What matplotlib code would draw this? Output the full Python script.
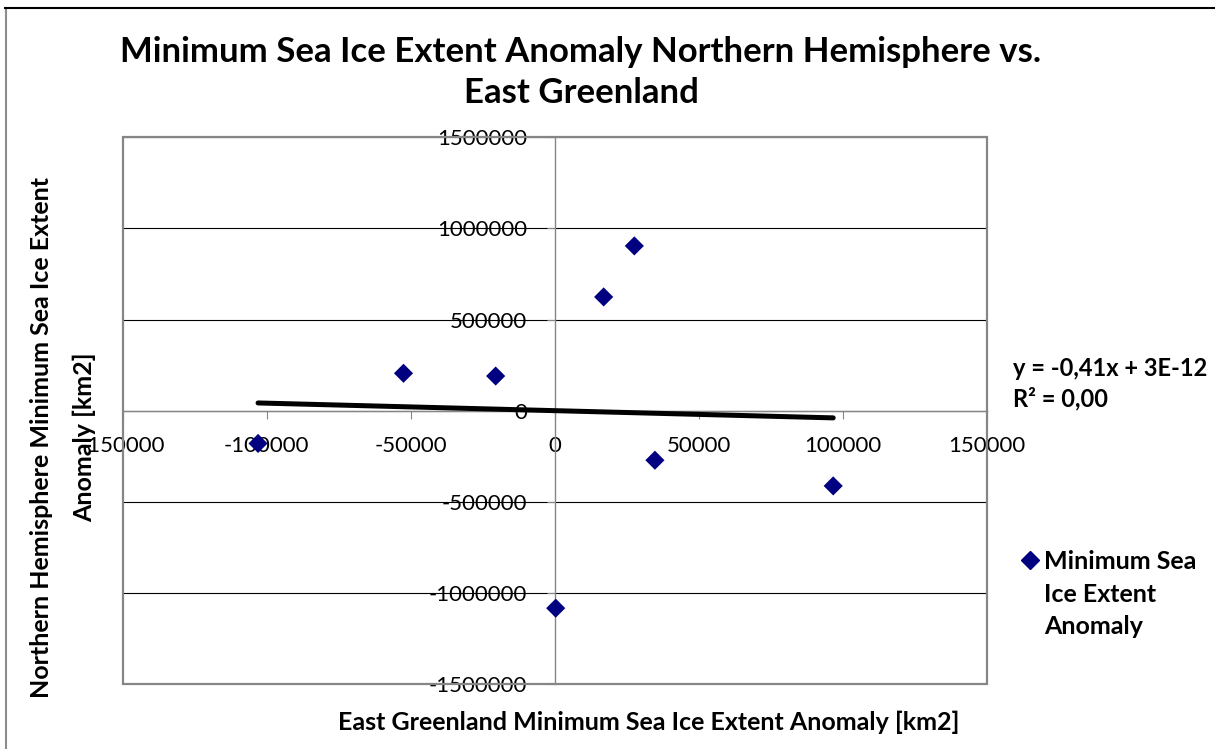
import matplotlib
matplotlib.use("Agg")
import matplotlib.pyplot as plt
from matplotlib.lines import Line2D
from matplotlib.patches import Rectangle
import numpy as np

# Minimum sea ice extent anomalies [km2]
east_greenland = [-103000, -52500, -20500, 17000, 27650, 34800, 96700, 350]
northern_hemisphere = [-180000, 205000, 190000, 624000, 904000, -272000, -413000, -1084000]

x_ticks = [-150000, -100000, -50000, 0, 50000, 100000, 150000]
y_ticks = [-1500000, -1000000, -500000, 0, 500000, 1000000, 1500000]

# Linear trend as reported on the chart
trend_slope = -0.41
trend_intercept = 3e-12
trend_label = "y = -0,41x + 3E-12"
r2_label = "R\u00b2 = 0,00"

series_label = "Minimum Sea\nIce Extent\nAnomaly"
title_lines = ["Minimum Sea Ice Extent Anomaly Northern Hemisphere vs.", "East Greenland"]
x_label = "East Greenland Minimum Sea Ice Extent Anomaly [km2]"
y_label = "Northern Hemisphere Minimum Sea Ice Extent\nAnomaly [km2]"

plt.rcParams['font.family'] = ['Lato', 'DejaVu Sans']

W, H = 1215, 749
fig = plt.figure(figsize=(W / 100, H / 100), dpi=100)
fig.patch.set_facecolor('white')


def fx(px):
    return px / W


def fy(py):
    return 1 - py / H


left, right, top, bottom = 122.7, 986.7, 137.3, 684.0
ax = fig.add_axes([fx(left), fy(bottom), (right - left) / W, (bottom - top) / H])
ax.set_xlim(x_ticks[0], x_ticks[-1])
ax.set_ylim(y_ticks[0], y_ticks[-1])

axis_grey = '#868686'
marker_blue = '#000080'

# axes crossing at the origin
for side in ('top', 'right'):
    ax.spines[side].set_visible(False)
ax.spines['left'].set_position(('data', 0))
ax.spines['bottom'].set_position(('data', 0))
for side in ('left', 'bottom'):
    ax.spines[side].set_color(axis_grey)
    ax.spines[side].set_linewidth(1.0)
    ax.spines[side].set_zorder(2.5)

ax.set_xticks(x_ticks)
ax.set_xticklabels([str(v) for v in x_ticks])
ax.set_yticks(y_ticks)
ax.set_yticklabels([str(v) for v in y_ticks])
ax.tick_params(axis='both', direction='out', length=6, width=0.8, color=axis_grey,
               labelsize=16, labelcolor='black')
ax.tick_params(axis='x', pad=12)
ax.tick_params(axis='y', pad=14)

ax.set_axisbelow(True)
ax.yaxis.grid(True, color='black', linewidth=0.8)

# plot-area frame
ax.add_patch(Rectangle((0, 0), 1, 1, transform=ax.transAxes, fill=False,
                       edgecolor=axis_grey, linewidth=1.6, zorder=3, clip_on=False))

ax.scatter(east_greenland, northern_hemisphere, marker='D', s=95,
           color=marker_blue, edgecolors='none', zorder=4)

tx = np.array([min(east_greenland), max(east_greenland)])
ax.plot(tx, trend_slope * tx + trend_intercept, color='black', linewidth=3.6,
        solid_capstyle='round', zorder=3.5)

# titles
fig.text(fx(581), fy(52), title_lines[0], ha='center', va='center',
         fontsize=25, fontweight='bold')
fig.text(fx(581), fy(93), title_lines[1], ha='center', va='center',
         fontsize=25, fontweight='bold')
fig.text(fx(649), fy(722), x_label, ha='center', va='center',
         fontsize=18, fontweight='bold')
fig.text(fx(63), fy(437), y_label, ha='center', va='center', rotation=90,
         multialignment='center', fontsize=18, fontweight='bold', linespacing=2.05)

# trend equation
fig.text(fx(1013), fy(369), trend_label, ha='left', va='center',
         fontsize=17, fontweight='bold')
fig.text(fx(1013), fy(399), r2_label, ha='left', va='center',
         fontsize=17, fontweight='bold')

# legend key and label
fig.add_artist(Line2D([fx(1030)], [fy(560)], marker='D', color=marker_blue,
                      linestyle='none', markersize=9.5))
fig.text(fx(1044), fy(594), series_label, ha='left', va='center',
         fontsize=18, fontweight='bold', linespacing=1.5)

# outer chart border
fig.add_artist(Line2D([fx(5.5), fx(5.5)], [fy(8), 0], color='#8c8c8c', linewidth=1.5))
fig.add_artist(Line2D([fx(5), 1], [fy(8), fy(8)], color='black', linewidth=1.5))

fig.savefig('out.png', dpi=100, facecolor='white')
